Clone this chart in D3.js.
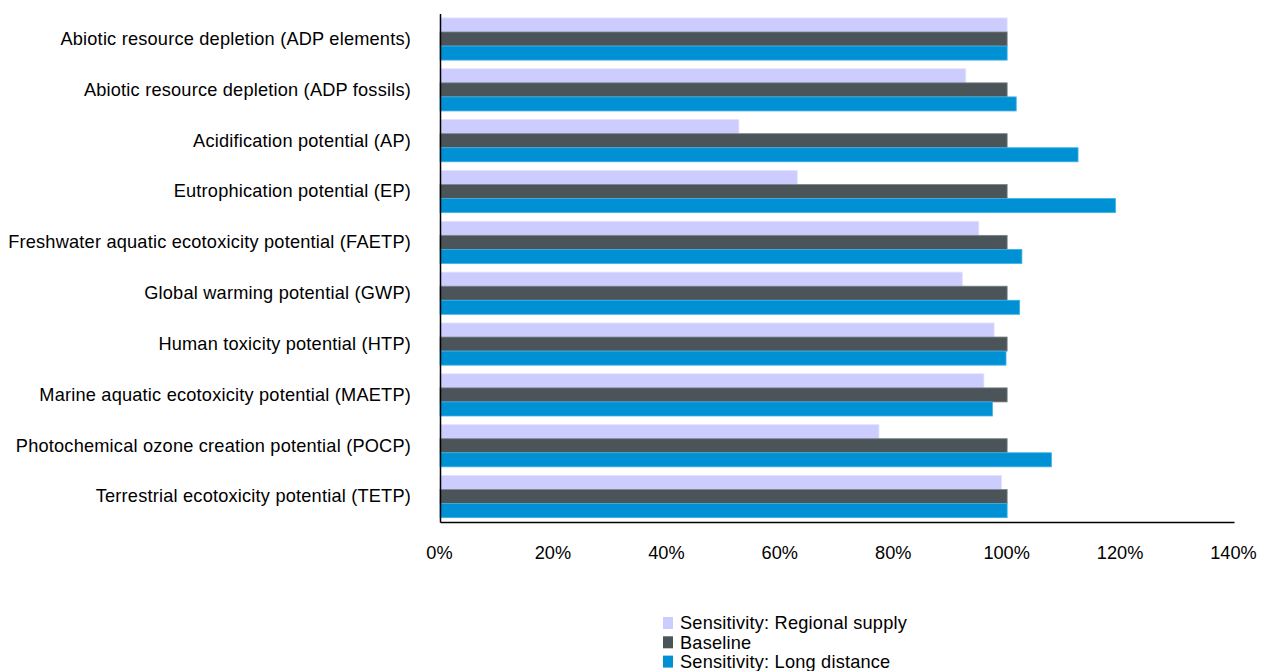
<!DOCTYPE html>
<html><head><meta charset="utf-8">
<script src="https://cdn.jsdelivr.net/npm/d3@7"></script>
<style>
body{margin:0;background:#fff;}
text{font-family:"Liberation Sans",Arial,sans-serif;fill:#000;}
</style></head>
<body><svg id="chart" width="1271" height="671"></svg>
<script>
const categories = [
  "Abiotic resource depletion (ADP elements)",
  "Abiotic resource depletion (ADP fossils)",
  "Acidification potential (AP)",
  "Eutrophication potential (EP)",
  "Freshwater aquatic ecotoxicity potential (FAETP)",
  "Global warming potential (GWP)",
  "Human toxicity potential (HTP)",
  "Marine aquatic ecotoxicity potential (MAETP)",
  "Photochemical ozone creation potential (POCP)",
  "Terrestrial ecotoxicity potential (TETP)"
];
const seriesNames = ["Sensitivity: Regional supply", "Baseline", "Sensitivity: Long distance"];
const regionalSupply = [100, 92.7, 52.7, 63.0, 95.0, 92.1, 97.7, 95.9, 77.4, 99.0];
const baseline       = [100, 100, 100, 100, 100, 100, 100, 100, 100, 100];
const longDistance   = [100, 101.6, 112.5, 119.1, 102.6, 102.2, 99.8, 97.4, 107.8, 100];
const xTicks = [0, 20, 40, 60, 80, 100, 120, 140];
const colors = ["#CCCCFF", "#4B5559", "#0091D5"];
const strokes = ["#E2E2FF", "#7A8387", "#40B0E8"];

const seriesValues = [regionalSupply, baseline, longDistance];
const svg = d3.select("#chart");
const mLeft = 440, mRight = 1234, mTop = 13.6, mBottom = 522;
const fs = "18.2px";

const x = d3.scaleLinear().domain([0, 140]).range([mLeft, mRight]);
const y0 = d3.scaleBand().domain(categories).range([mTop, mBottom]).paddingInner(0.17).paddingOuter(0.085);
const y1 = d3.scaleBand().domain(d3.range(3)).range([0, y0.bandwidth()]);

const g = svg.append("g");
categories.forEach((c, i) => {
  seriesValues.forEach((vals, s) => {
    g.append("rect")
      .attr("x", x(0))
      .attr("y", y0(c) + y1(s))
      .attr("width", x(vals[i]) - x(0))
      .attr("height", y1.bandwidth())
      .attr("fill", colors[s])
      .attr("stroke", strokes[s])
      .attr("stroke-width", 0.8);
  });
});

const yAxis = d3.axisLeft(y0).tickSize(0).tickPadding(29);
const ya = svg.append("g").attr("transform", `translate(${mLeft},0)`).call(yAxis);
ya.select(".domain").attr("stroke", "#000").attr("stroke-width", 1.5);
ya.selectAll("text").style("font-size", fs).style("letter-spacing", "0.2px");

const xAxis = d3.axisBottom(x).tickValues(xTicks).tickSize(0).tickPadding(24).tickFormat(d => d + "%");
const xa = svg.append("g").attr("transform", `translate(0,${mBottom})`).call(xAxis);
xa.select(".domain").attr("stroke", "#000").attr("stroke-width", 1.5);
xa.selectAll("text").style("font-size", fs).attr("dx", "-1");

const lg = svg.append("g");
seriesNames.forEach((n, i) => {
  const yy = 623 + i * 19.3;
  lg.append("rect").attr("x", 663).attr("y", yy - 6).attr("width", 10).attr("height", 12).attr("fill", colors[i]);
  lg.append("text").attr("x", 680).attr("y", yy).attr("dy", "0.35em")
    .style("font-size", fs).style("letter-spacing", "0.2px").text(n);
});
</script></body></html>
